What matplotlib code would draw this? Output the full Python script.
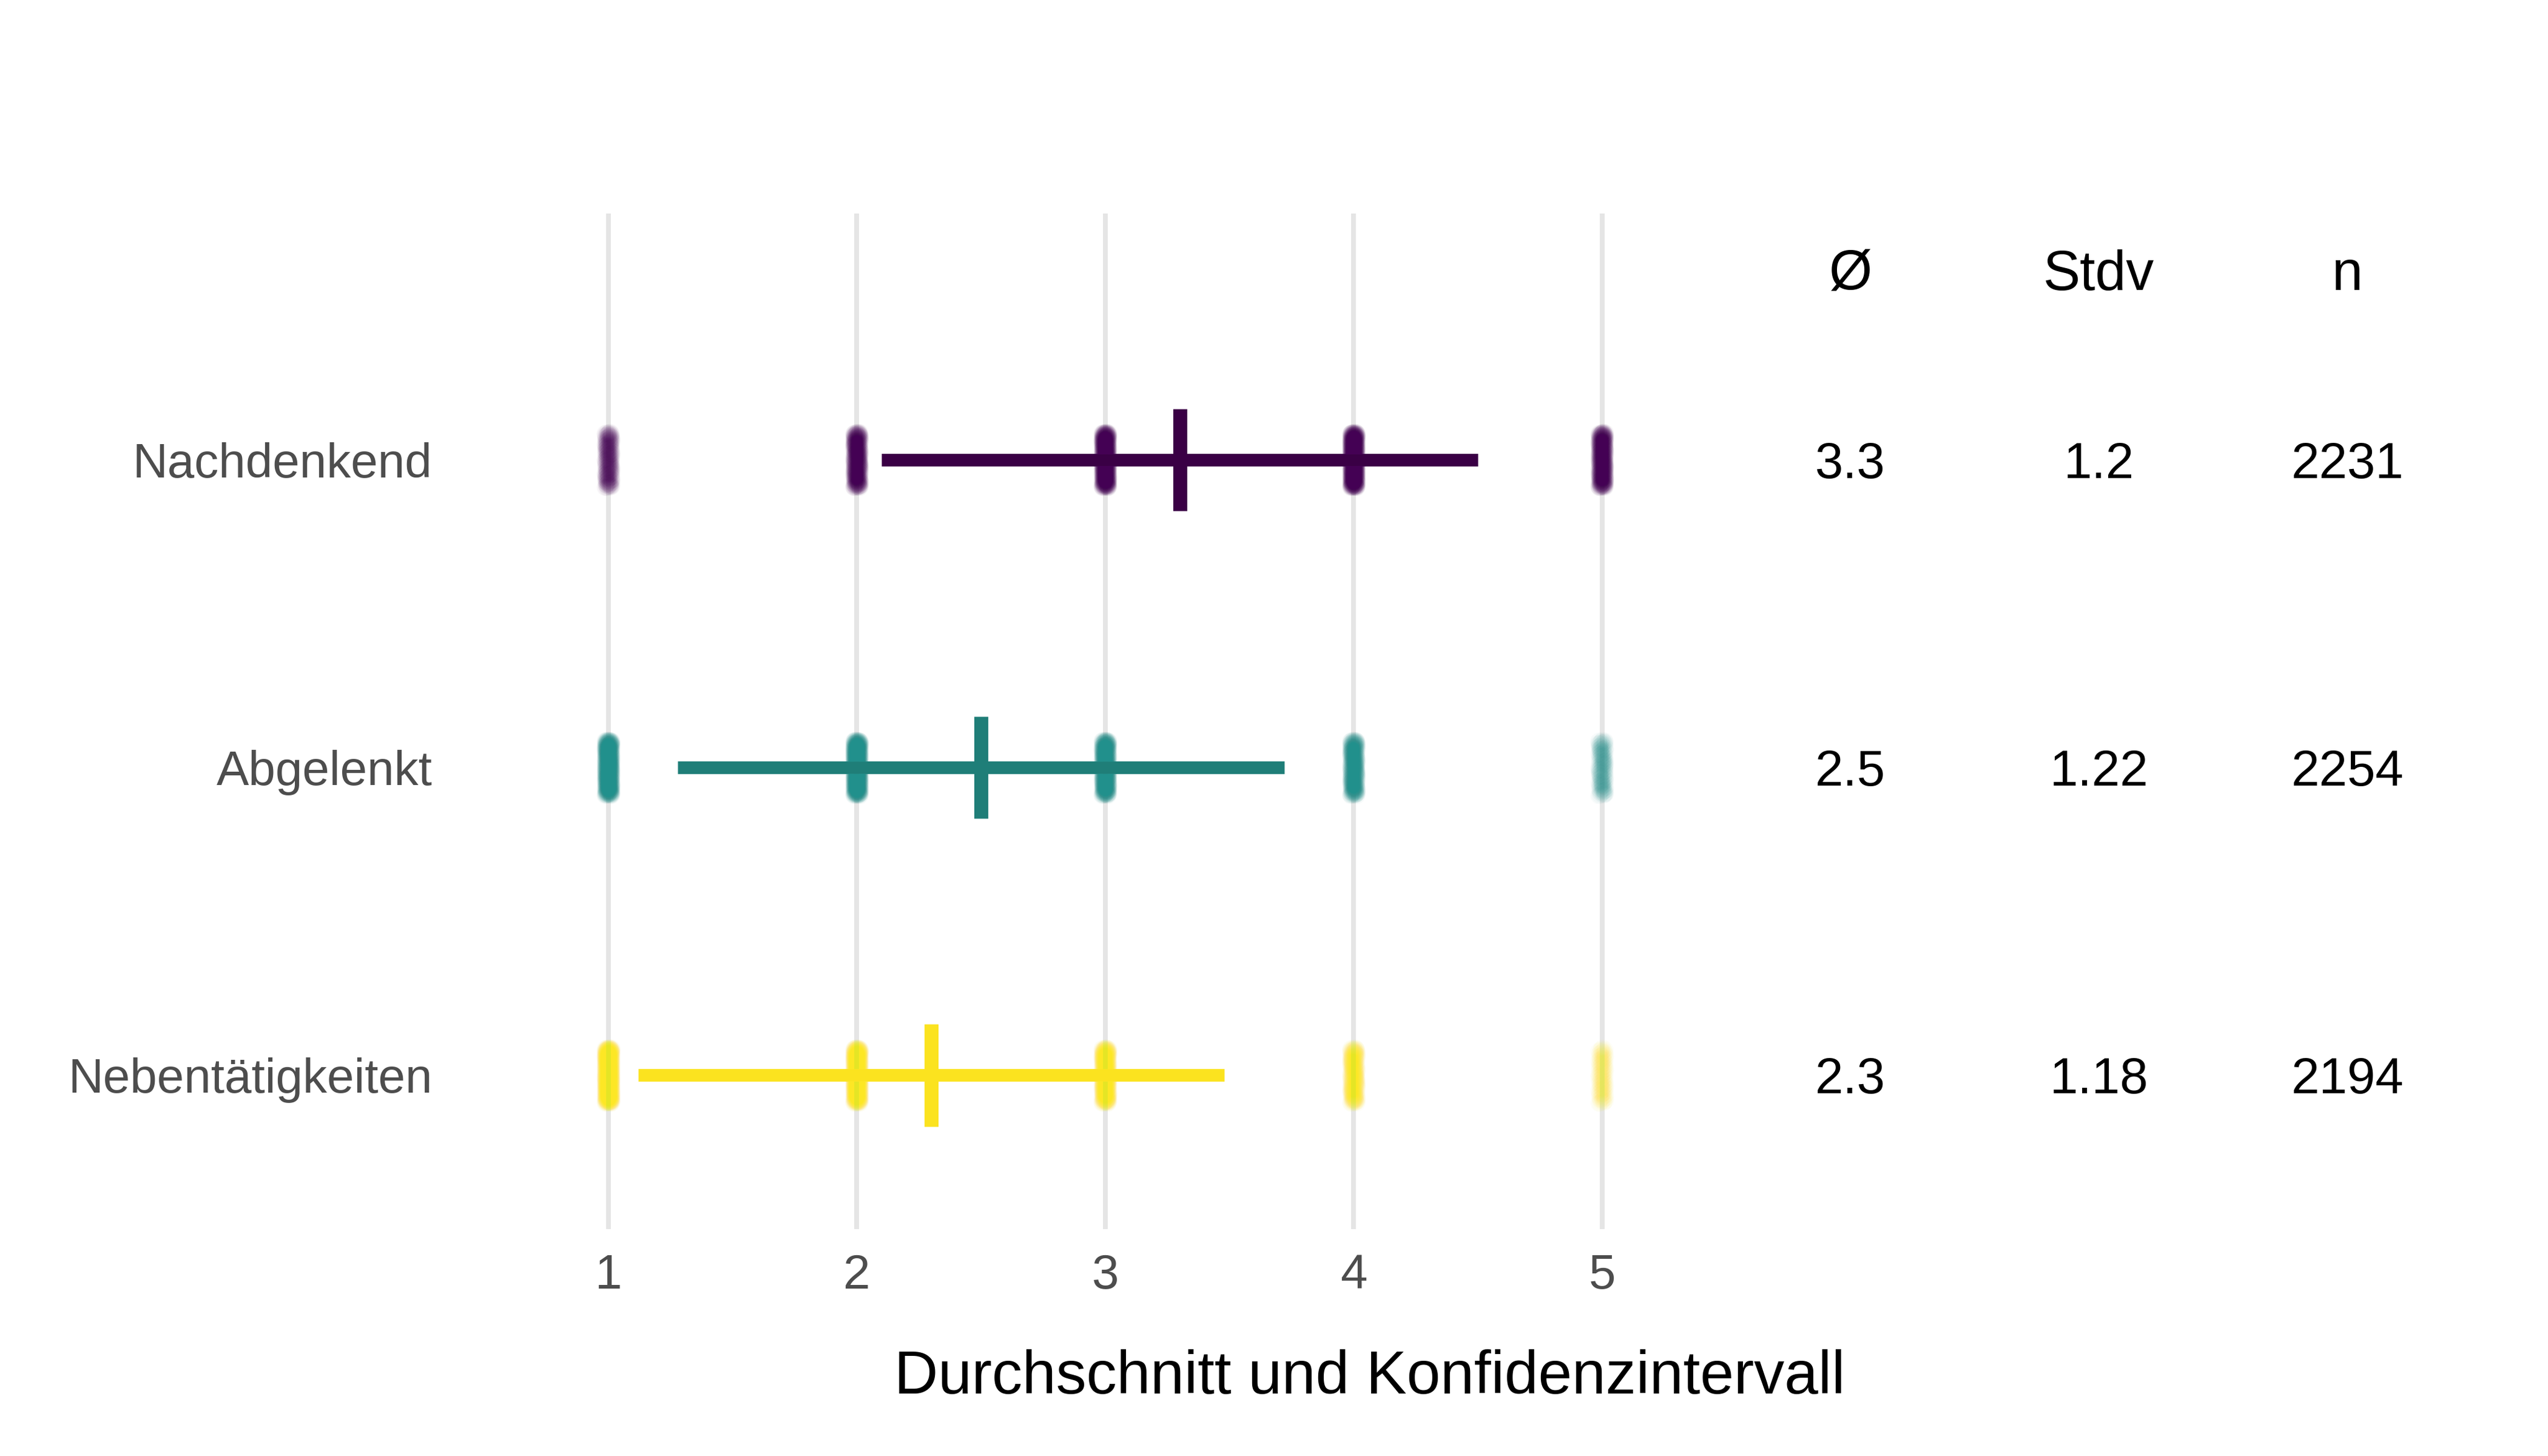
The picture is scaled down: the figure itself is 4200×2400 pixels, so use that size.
import numpy as np
import matplotlib
matplotlib.use("Agg")
import matplotlib.pyplot as plt

# categories, top row first
categories = ["Nachdenkend", "Abgelenkt", "Nebentätigkeiten"]
means = [3.3, 2.5, 2.3]
stdvs = [1.2, 1.22, 1.18]
ns = [2231, 2254, 2194]

# answers per scale level 1..5 (estimated from the stripes)
levels = [1, 2, 3, 4, 5]
counts_nachdenkend = [201, 379, 580, 647, 424]
counts_abgelenkt = [586, 631, 518, 383, 136]
counts_neben = [702, 614, 483, 285, 110]
counts = [counts_nachdenkend, counts_abgelenkt, counts_neben]

table_headers = ["Ø", "Stdv", "n"]
x_ticks = [1, 2, 3, 4, 5]

point_colors = ["#440154", "#21908C", "#FDE725"]
bar_colors = ["#3a0045", "#1f7e78", "#fbe31f"]

plt.rcParams["font.family"] = ["Liberation Sans", "DejaVu Sans"]

fig = plt.figure(figsize=(14, 8), dpi=300)
ax = fig.add_axes([0.19, 1 - 2026 / 2400, 0.78, (2026 - 352) / 2400])

ypos = [3, 2, 1]

# grid lines only at the scale values
for xv in x_ticks:
    ax.axvline(xv, color="#e5e5e5", lw=1.9, zorder=0)

for i, cat in enumerate(categories):
    y = ypos[i]
    m, sd = means[i], stdvs[i]
    ax.hlines(y, m - sd, m + sd, color=bar_colors[i], lw=5.0, capstyle="butt", zorder=2)
    ax.vlines(m, y - 0.166, y + 0.166, color=bar_colors[i], lw=5.5, capstyle="butt", zorder=2)

    # spread the answers of each level over a small band (deterministic jitter)
    xs, ys = [], []
    for lv, c in zip(levels, counts[i]):
        k = np.arange(c)
        dy = ((k * 0.6180340) % 1) * 2 - 1
        dx = ((k * 0.7548777) % 1) * 2 - 1
        xs.append(lv + dx * 0.014)
        ys.append(y + dy * 0.09)
    ax.scatter(np.concatenate(xs), np.concatenate(ys), s=45, color=point_colors[i],
               alpha=0.03, linewidths=0, zorder=3)

# table on the right
for j, h in enumerate(table_headers):
    ax.text(6 + j, 3.552, h, ha="center", va="baseline", fontsize=22, color="black")
for i in range(len(categories)):
    vals = [f"{means[i]:g}", f"{stdvs[i]:g}", f"{ns[i]}"]
    for j, v in enumerate(vals):
        ax.text(6 + j, ypos[i] - 0.059, v, ha="center", va="baseline", fontsize=20, color="black")

ax.set_xlim(0.5, 8.5)
ax.set_ylim(0.5, 3.8)
ax.set_xticks(x_ticks)
ax.set_xticklabels([str(t) for t in x_ticks])
ax.set_yticks(ypos)
ax.set_yticklabels(categories)
ax.tick_params(axis="both", length=0, labelsize=19.2, labelcolor="#4d4d4d")
ax.tick_params(axis="x", pad=9.5)
ax.tick_params(axis="y", pad=20.5)
for s in ax.spines.values():
    s.set_visible(False)

fig.text(2258 / 4200, 1 - 2297 / 2400, "Durchschnitt und Konfidenzintervall",
         ha="center", va="baseline", fontsize=24, color="black")

fig.savefig("out.png", dpi=300, facecolor="white")
